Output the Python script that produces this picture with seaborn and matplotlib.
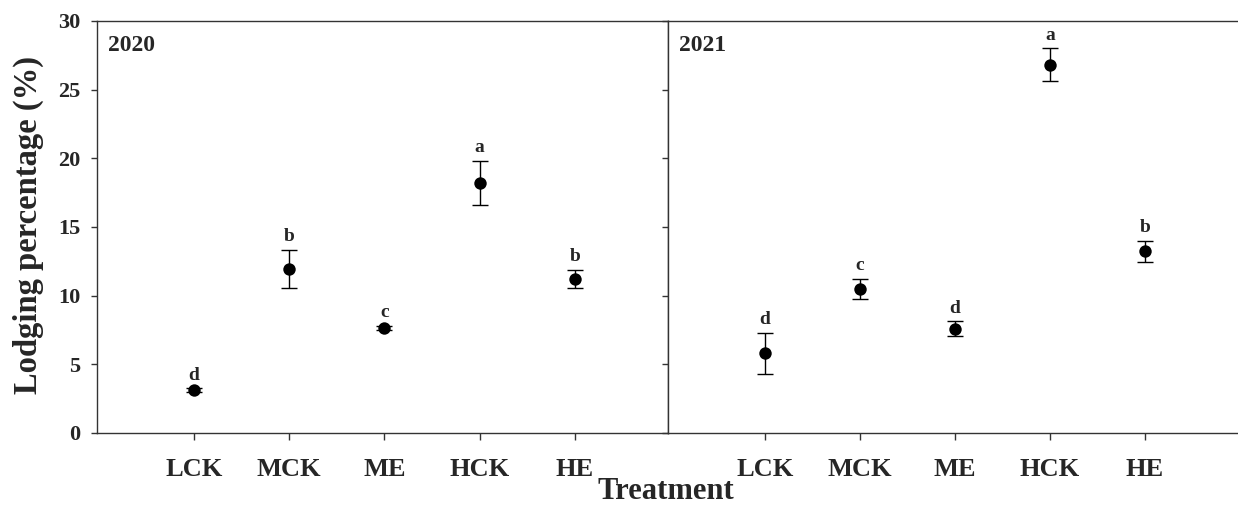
import matplotlib
matplotlib.use("Agg")

import matplotlib.pyplot as plt
import numpy as np
import pandas as pd
import seaborn as sns

# ── data ───────────────────────────────────────────────────────────────────
treatments = ["LCK", "MCK", "ME", "HCK", "HE"]
years = ["2020", "2021"]

mean_2020 = [3.1, 11.95, 7.65, 18.2, 11.2]
err_2020 = [0.15, 1.4, 0.12, 1.62, 0.67]
letters_2020 = ["d", "b", "c", "a", "b"]

mean_2021 = [5.8, 10.48, 7.58, 26.8, 13.22]
err_2021 = [1.5, 0.75, 0.55, 1.2, 0.78]
letters_2021 = ["d", "c", "d", "a", "b"]

yticks = [0, 5, 10, 15, 20, 25, 30]

sns.set_style("ticks")
plt.rcParams["font.family"] = ["Liberation Serif", "DejaVu Serif"]
plt.rcParams["font.weight"] = "bold"
plt.rcParams["axes.linewidth"] = 1.0
plt.rcParams["axes.edgecolor"] = "#333333"

fig = plt.figure(figsize=(12.38, 5.08), dpi=100)
ax_l = fig.add_axes([97 / 1238, 75 / 508, 571 / 1238, 412 / 508])
ax_r = fig.add_axes([668 / 1238, 75 / 508, 570 / 1238, 412 / 508])

panels = [
    (ax_l, "2020", mean_2020, err_2020, letters_2020),
    (ax_r, "2021", mean_2021, err_2021, letters_2021),
]

for ax, year, means, errs, letters in panels:
    df = pd.DataFrame({"treatment": treatments, "mean": means, "se": errs})
    xpos = np.arange(len(treatments))
    ax.errorbar(xpos, df["mean"], yerr=df["se"], fmt="none", ecolor="black",
                elinewidth=1.0, capsize=6, capthick=1.0, zorder=2)
    sns.scatterplot(data=df, x="treatment", y="mean", ax=ax, color="black",
                    s=80, edgecolor="black", linewidth=0, zorder=3)
    for x, m, e, lab in zip(xpos, df["mean"], df["se"], letters):
        ax.text(x, m + e + 0.35, lab, ha="center", va="bottom",
                fontsize=14, fontweight="bold")
    ax.text(0.02, 0.965, year, transform=ax.transAxes, ha="left", va="top",
            fontsize=17, fontweight="bold")

    ax.set_xlim(-1.02, 4.98)
    ax.set_ylim(0, 30)
    ax.set_yticks(yticks)
    ax.set_xticks(xpos)
    ax.set_xticklabels(treatments, fontsize=19, fontweight="bold")
    ax.tick_params(axis="x", direction="out", length=5, width=1.0, pad=13,
                   color="#333333")
    ax.set_xlabel("")
    ax.set_ylabel("")
    for sp in ax.spines.values():
        sp.set_visible(True)

ax_l.set_yticklabels([str(v) for v in yticks], fontsize=16, fontweight="bold")
ax_l.tick_params(axis="y", direction="out", length=4, width=1.0, pad=8,
                 color="#333333")
ax_r.tick_params(axis="y", direction="out", length=4, width=1.0,
                 labelleft=False, color="#333333")
ax_r.spines["right"].set_visible(False)

fig.text(28 / 1238, 0.557, "Lodging percentage (%)", rotation=90,
         ha="center", va="center", fontsize=23.5, fontweight="bold")
fig.text(666 / 1238, 2 / 508, "Treatment", ha="center", va="bottom",
         fontsize=22, fontweight="bold")

fig.savefig("out.png", dpi=100)
plt.close(fig)
